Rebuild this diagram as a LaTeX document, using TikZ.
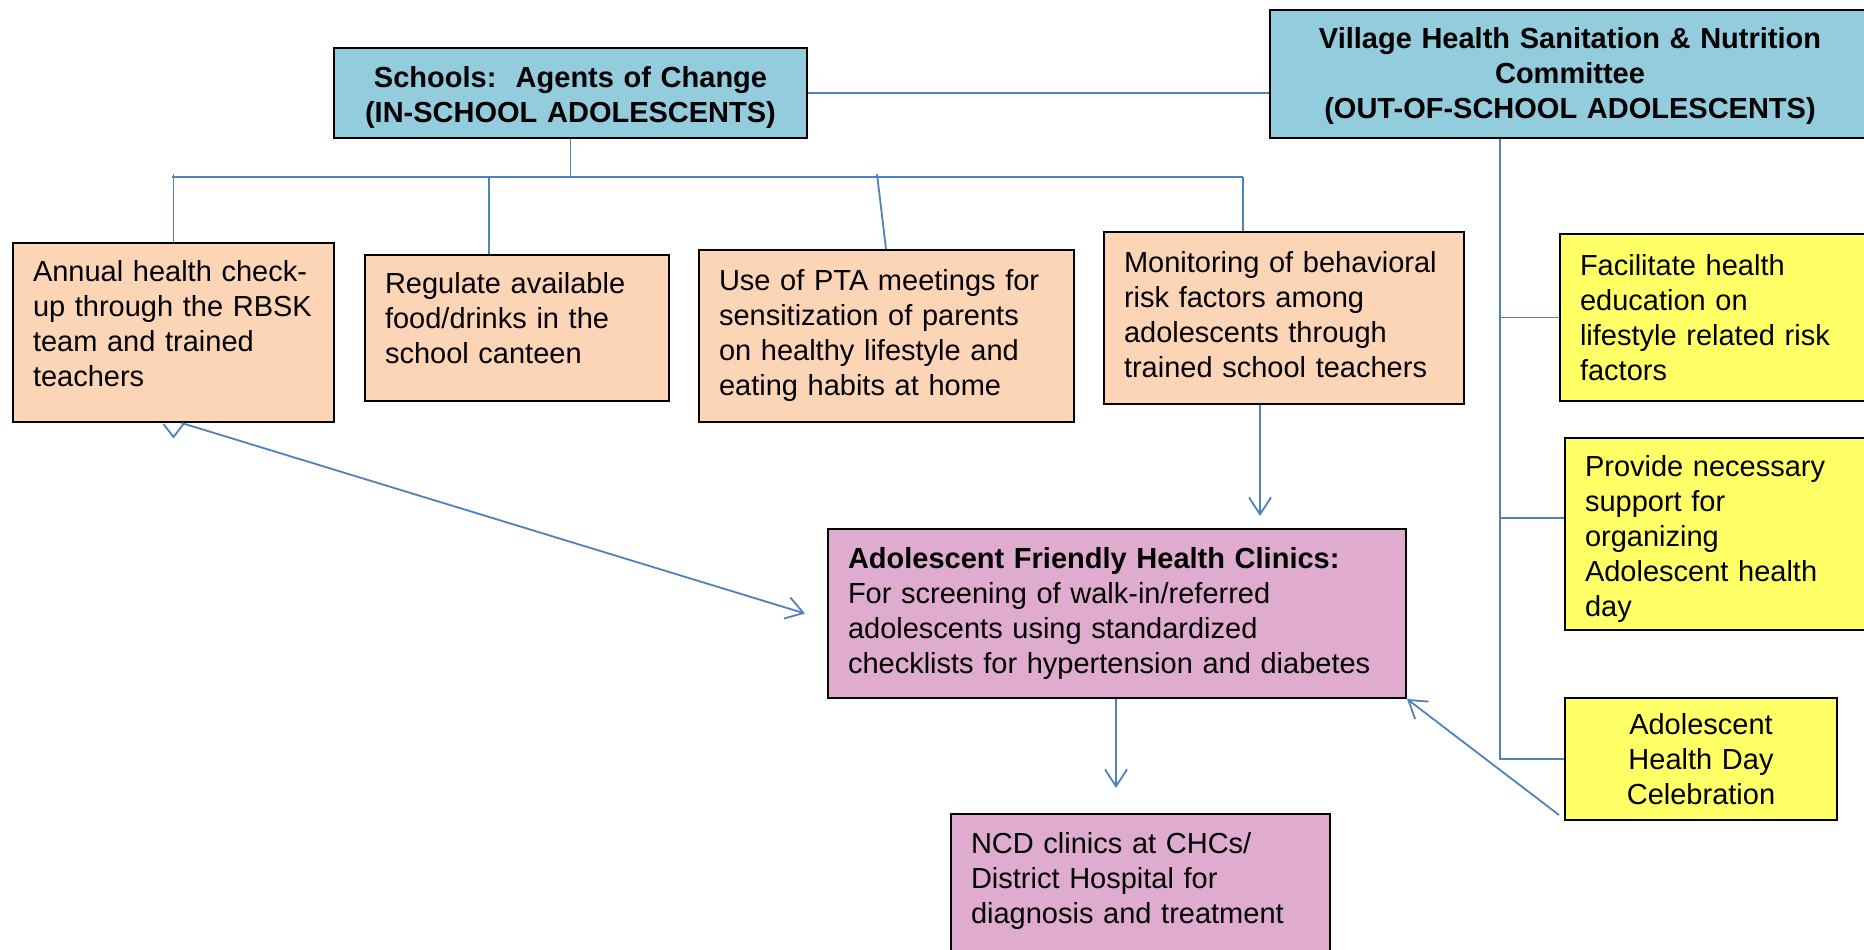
\documentclass[tikz,border=0pt]{standalone}
\usepackage{fontspec}
\setmainfont{Liberation Sans}
\usetikzlibrary{arrows.meta}
\definecolor{clrHdr}{HTML}{93CDDD}
\definecolor{clrPeach}{HTML}{FBD5B5}
\definecolor{clrPink}{HTML}{DFABCF}
\definecolor{clrYellow}{HTML}{FFFF66}
\definecolor{clrLine}{HTML}{4F81BD}
\frenchspacing
\begin{document}
\begin{tikzpicture}[x=1pt,y=-1pt,
  font=\fontsize{29}{35}\selectfont,
  box/.style={draw=black, line width=2pt, inner xsep=20pt, inner ysep=0pt, anchor=north west, align=left},
  hdrbox/.style={box, fill=clrHdr, align=center, font=\fontsize{29}{35}\selectfont\bfseries},
  peachbox/.style={box, fill=clrPeach},
  pinkbox/.style={box, fill=clrPink},
  yelbox/.style={box, fill=clrYellow},
  conn/.style={draw=clrLine, line width=1.8pt},
  arr/.style={conn, -{Straight Barb[length=17pt,width=22pt]}}]
\useasboundingbox (0,0) rectangle (1864,950);

% header boxes
\node[hdrbox, text width=433pt, minimum width=473pt, minimum height=90pt] (schools) at (333,47)
  {\mbox{}\\[-4pt]Schools:\ \ Agents of Change\\(IN-SCHOOL ADOLESCENTS)};
\node[hdrbox, text width=560pt, minimum width=600pt, minimum height=128pt] (village) at (1269,9)
  {\mbox{}\\[-9pt]Village Health Sanitation \& Nutrition\\Committee\\(OUT-OF-SCHOOL ADOLESCENTS)};

% in-school boxes
\node[peachbox, text width=281pt, minimum width=321pt, minimum height=179pt] (annual) at (12,242)
  {Annual health check-\\up through the RBSK\\team and trained\\teachers\\[-17pt]\mbox{}};
\node[peachbox, text width=264pt, minimum width=304pt, minimum height=146pt] (regulate) at (364,254)
  {Regulate available\\food/drinks in the\\school canteen\\[-15pt]\mbox{}};
\node[peachbox, text width=335pt, minimum width=375pt, minimum height=172pt] (pta) at (698,249)
  {Use of PTA meetings for\\sensitization of parents\\on healthy lifestyle and\\eating habits at home};
\node[peachbox, text width=320pt, minimum width=360pt, minimum height=172pt] (monitor) at (1103,231)
  {Monitoring of behavioral\\risk factors among\\adolescents through\\trained school teachers\\[-27pt]\mbox{}};

% out-of-school boxes
\node[yelbox, text width=280pt, minimum width=320pt, minimum height=167pt] (facil) at (1559,233)
  {Facilitate health\\education on\\lifestyle related risk\\factors};
\node[yelbox, text width=275pt, minimum width=315pt, minimum height=192pt] (provide) at (1564,437)
  {\mbox{}\\[-4pt]Provide necessary\\support for\\organizing\\Adolescent health\\day};
\node[yelbox, align=center, text width=232pt, minimum width=272pt, minimum height=122pt] (celeb) at (1564,697)
  {Adolescent\\Health Day\\Celebration};

% clinics
\node[pinkbox, text width=538pt, minimum width=578pt, minimum height=169pt] (afhc) at (827,528)
  {\textbf{Adolescent Friendly Health Clinics:}\\For screening of walk-in/referred\\adolescents using standardized\\checklists for hypertension and diabetes};
\node[pinkbox, text width=339pt, minimum width=379pt, minimum height=180pt] (ncd) at (950,813)
  {NCD clinics at CHCs/\\District Hospital for\\diagnosis and treatment\\[17pt]\mbox{}};

% connectors
\coordinate (busL) at (172,177);
\coordinate (busR) at (1243,177);
\draw[conn] (schools.east) -- (schools.east -| village.west);
\draw[conn] (schools.south) -- (schools.south |- busL);
\draw[conn] (busL) -- (busR);
\draw[conn] ([yshift=3pt]annual.north |- busL) -- (annual.north);
\draw[conn] ([xshift=125pt]regulate.north west |- busL) -- ([xshift=125pt]regulate.north west);
\draw[conn] ([xshift=179pt,yshift=3pt]pta.north west |- busL) -- ([xshift=188pt]pta.north west);
\draw[conn] (busR) -- (busR |- monitor.north);

\draw[arr, shorten >=12pt] ([xshift=157pt]monitor.south west) -- ([xshift=157pt]monitor.south west |- afhc.north);
\draw[arr, shorten >=25pt] ([xshift=289pt]afhc.south west) -- ([xshift=289pt]afhc.south west |- ncd.north);

\coordinate (vstem) at ([xshift=231pt]village.south west);
\coordinate (provBr) at ([yshift=16pt]provide.west);
\draw[conn] (vstem) -- (vstem |- celeb.west) -- (celeb.west);
\draw[conn] (vstem |- facil.west) -- (facil.west);
\draw[conn] (vstem |- provBr) -- (provBr);

\draw[arr] ([xshift=-5pt,yshift=6pt]celeb.south west) -- (afhc.south east);
\draw[arr] ([xshift=8pt]annual.south) -- ([xshift=-22pt]afhc.west);
\draw[conn] ([xshift=-10pt,yshift=-1pt]annual.south) -- ([yshift=-14pt]annual.south) -- ([xshift=10pt,yshift=-1pt]annual.south);
\end{tikzpicture}
\end{document}
